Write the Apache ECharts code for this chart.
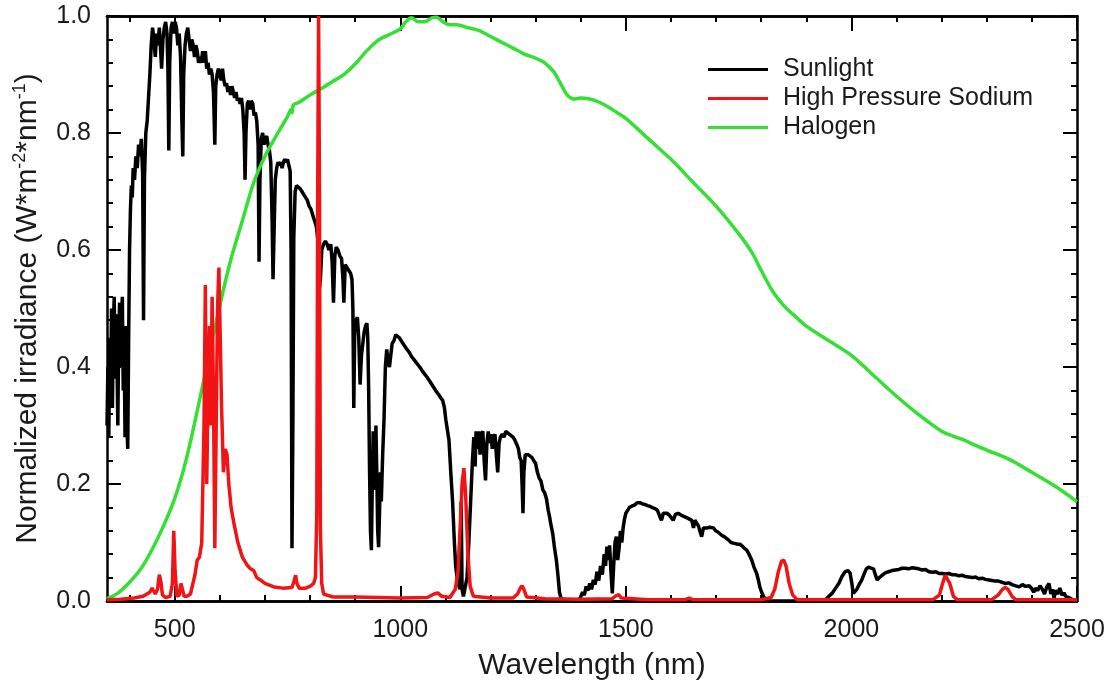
<!DOCTYPE html>
<html>
<head>
<meta charset="utf-8">
<title>Spectra</title>
<script src="https://cdn.jsdelivr.net/npm/echarts@6/dist/echarts.min.js"></script>
<style>
  html, body { margin: 0; padding: 0; background: #fff; }
  #chart { width: 1113px; height: 686px; }
</style>
</head>
<body>
<div id="chart"></div>
<script>
// tick positions
const majorTicksX = [500, 1000, 1500, 2000, 2500];
const minorTicksX = [400, 600, 700, 800, 900, 1100, 1200, 1300, 1400, 1600, 1700, 1800, 1900, 2100, 2200, 2300, 2400];

// Sunlight
const sunWl = [350,352,354,356,358,360,362,364,366,368,370,372,374,376,378,380,382,384,386,388,390,392,394,396,398,
  400,402,404,406,408,411,414,417,420,423,426,429,431,433,436,439,442,445,448,451,454,457,460,463,466,469,471,474,477,480,483,485,487,489,492,495,498,
  501,504,507,510,513,516,518,520,523,526,529,532,535,538,541,544,547,550,553,556,559,562,565,568,571,574,577,580,583,586,589,591,594,597,
  600,603,606,609,612,615,618,621,624,627,630,633,636,639,642,645,648,651,654,656,658,661,664,667,670,673,676,679,682,685,687,689,692,695,698,
  701,704,707,710,713,716,718,720,723,726,729,732,735,738,741,744,747,750,753,756,758,760,762,764,767,770,774,778,782,786,790,794,798,
  802,806,810,814,817,820,823,826,830,834,838,842,846,849,852,855,858,862,866,870,873,875,878,882,886,890,893,895,897,899,
  902,905,908,911,914,917,920,923,926,928,930,932,934,936,938,940,942,944,946,948,950,952,954,956,958,961,964,967,970,973,976,979,982,986,990,994,998,
  1002,1006,1010,1015,1020,1025,1030,1035,1040,1045,1050,1055,1060,1065,1070,1075,1080,1085,1090,1094,1098,
  1101,1104,1108,1112,1116,1120,1123,1126,1129,1132,1135,1137,1140,1144,1148,1152,1156,1160,1163,1166,1168,1171,1174,1177,1180,1183,1186,1189,1192,1195,1198,
  1201,1204,1207,1210,1213,1216,1219,1222,1226,1230,1234,1238,1242,1246,1250,1254,1258,1262,1265,1268,1270,1272,1274,1277,1280,1284,1288,1292,1296,
  1300,1304,1308,1312,1316,1320,1324,1328,1331,1334,1338,1342,1346,1350,1353,1357,1360,1395,
  1400,1404,1408,1412,1416,1420,1424,1428,1432,1436,1440,1444,1448,1452,1455,1458,1461,1464,1467,1470,1473,1476,1479,1482,1485,1488,1491,1494,1497,
  1500,1504,1508,1513,1519,1525,1531,1537,1542,1548,1553,1558,1564,1570,1575,1579,1583,1587,1591,1596,
  1601,1605,1610,1616,1622,1627,1631,1636,1641,1646,1650,1653,1657,1661,1664,1668,1672,1676,1681,1686,1690,1694,1699,
  1704,1708,1713,1718,1723,1728,1733,1738,1743,1748,1753,1758,1763,1768,1773,1779,1784,1790,1794,1797,
  1801,1805,1810,1816,1940,1950,1957,1965,1972,1979,1986,1992,1997,
  2001,2004,2008,2012,2017,2023,2028,2033,2038,2044,2049,2053,2057,2062,2068,2075,2082,2090,2097,
  2105,2112,2119,2127,2135,2142,2149,2157,2164,2172,2180,2187,2194,
  2201,2209,2216,2223,2230,2238,2245,2252,2260,2268,2275,2282,2290,2297,
  2305,2312,2319,2326,2334,2341,2349,2356,2364,2372,2379,2386,2394,
  2400,2404,2408,2413,2418,2423,2428,2433,2438,2442,2446,2449,2453,2458,2462,2467,2471,2476,2482,2490,2497];
const sunVal = [0.30,0.40,0.28,0.45,0.35,0.50,0.33,0.47,0.52,0.38,0.49,0.42,0.30,0.46,0.51,0.40,0.48,0.52,0.36,0.44,0.28,0.47,0.30,0.26,0.45,
  0.60,0.67,0.71,0.69,0.74,0.72,0.76,0.74,0.78,0.76,0.79,0.73,0.48,0.72,0.80,0.82,0.86,0.90,0.95,0.98,0.96,0.93,0.97,0.95,0.98,0.94,0.91,0.96,0.98,0.99,0.97,0.91,0.77,0.92,0.98,0.99,0.97,
  0.99,0.98,0.95,0.97,0.93,0.82,0.76,0.90,0.95,0.97,0.98,0.96,0.94,0.96,0.95,0.93,0.95,0.94,0.92,0.93,0.92,0.94,0.92,0.94,0.91,0.92,0.90,0.91,0.90,0.87,0.78,0.88,0.90,0.91,
  0.90,0.89,0.91,0.89,0.88,0.885,0.87,0.88,0.865,0.88,0.87,0.86,0.87,0.855,0.86,0.85,0.86,0.84,0.80,0.72,0.80,0.85,0.855,0.84,0.855,0.85,0.83,0.835,0.82,0.78,0.58,0.72,0.79,0.80,0.78,
  0.79,0.795,0.78,0.77,0.75,0.65,0.55,0.62,0.72,0.74,0.75,0.745,0.75,0.74,0.75,0.755,0.75,0.755,0.745,0.735,0.60,0.09,0.30,0.62,0.70,0.71,0.71,0.705,0.70,0.70,0.69,0.685,0.675,
  0.67,0.66,0.65,0.64,0.62,0.53,0.55,0.60,0.61,0.615,0.61,0.60,0.61,0.58,0.51,0.59,0.605,0.60,0.59,0.585,0.55,0.51,0.575,0.57,0.565,0.56,0.55,0.50,0.33,0.46,
  0.48,0.485,0.45,0.37,0.42,0.44,0.46,0.47,0.475,0.45,0.36,0.22,0.12,0.087,0.20,0.29,0.25,0.19,0.30,0.22,0.12,0.092,0.15,0.22,0.17,0.25,0.31,0.40,0.43,0.41,0.40,0.42,0.44,0.445,0.455,0.455,0.45,
  0.448,0.44,0.437,0.43,0.425,0.418,0.413,0.408,0.403,0.398,0.392,0.387,0.382,0.376,0.37,0.364,0.358,0.353,0.347,0.343,0.33,
  0.31,0.295,0.275,0.22,0.17,0.10,0.058,0.04,0.03,0.02,0.17,0.02,0.008,0.01,0.04,0.10,0.17,0.24,0.28,0.23,0.29,0.26,0.29,0.25,0.285,0.29,0.24,0.206,0.27,0.29,0.27,
  0.285,0.26,0.28,0.285,0.25,0.22,0.27,0.28,0.285,0.28,0.29,0.29,0.285,0.285,0.28,0.275,0.268,0.26,0.245,0.24,0.20,0.15,0.22,0.25,0.252,0.25,0.25,0.245,0.24,
  0.235,0.22,0.21,0.205,0.19,0.185,0.175,0.155,0.144,0.13,0.115,0.09,0.07,0.04,0.014,0.003,0.0,0.0,
  0.007,0.015,0.01,0.025,0.018,0.03,0.02,0.036,0.028,0.05,0.035,0.06,0.045,0.08,0.06,0.093,0.07,0.095,0.05,0.013,0.06,0.10,0.11,0.07,0.09,0.12,0.10,0.125,0.14,
  0.15,0.155,0.16,0.162,0.164,0.168,0.168,0.166,0.165,0.163,0.162,0.16,0.158,0.155,0.145,0.138,0.15,0.152,0.15,0.147,
  0.142,0.138,0.148,0.15,0.147,0.145,0.145,0.142,0.14,0.138,0.125,0.138,0.133,0.128,0.12,0.11,0.125,0.127,0.125,0.126,0.124,0.125,0.12,
  0.118,0.116,0.112,0.11,0.107,0.104,0.10,0.099,0.098,0.097,0.097,0.094,0.09,0.087,0.08,0.07,0.058,0.047,0.035,0.024,
  0.015,0.008,0.002,0.0,0.0,0.008,0.013,0.022,0.03,0.042,0.05,0.052,0.048,
  0.03,0.013,0.015,0.02,0.028,0.036,0.046,0.055,0.058,0.056,0.055,0.045,0.036,0.04,0.044,0.048,0.05,0.052,0.053,
  0.054,0.056,0.056,0.055,0.057,0.056,0.055,0.053,0.054,0.05,0.049,0.05,0.047,
  0.047,0.046,0.047,0.045,0.045,0.043,0.044,0.042,0.041,0.04,0.041,0.038,0.039,0.037,
  0.036,0.035,0.034,0.034,0.032,0.03,0.031,0.028,0.026,0.024,0.028,0.025,0.026,
  0.021,0.015,0.022,0.018,0.026,0.02,0.012,0.024,0.03,0.012,0.02,0.005,0.018,0.012,0.022,0.01,0.014,0.007,0.006,0.002,0.0];

// High pressure sodium
const hpsWl = [350,380,410,430,445,450,453,457,462,466,469,473,480,490,495,498,501,505,510,514,517,521,527,535,545,550,555,560,565,568,571,574,577,580,583,586,589,592,595,598,
  601,604,608,612,616,620,625,632,640,650,660,668,675,682,690,700,720,740,760,765,768,771,776,790,800,808,812,815,817,819,821,823,826,830,850,900,950,
  1000,1060,1075,1083,1092,1110,1122,1128,1133,1137,1141,1145,1150,1155,1162,1200,1250,1260,1266,1270,1274,1280,1320,1400,1470,1478,1484,1490,1550,1630,1640,1650,
  1800,1822,1830,1838,1845,1850,1855,1862,1870,1880,2180,2195,2202,2208,2212,2218,2226,2235,2310,2325,2335,2341,2347,2356,2365,2500];
const hpsVal = [0.002,0.003,0.005,0.008,0.015,0.022,0.025,0.012,0.02,0.045,0.035,0.01,0.006,0.008,0.03,0.12,0.05,0.008,0.01,0.03,0.03,0.008,0.008,0.012,0.045,0.07,0.075,0.10,0.30,0.54,0.20,0.35,0.47,0.30,0.52,0.35,0.09,0.30,0.50,0.57,
  0.45,0.33,0.22,0.26,0.25,0.20,0.16,0.13,0.10,0.075,0.062,0.055,0.052,0.04,0.036,0.03,0.024,0.022,0.023,0.035,0.044,0.03,0.022,0.022,0.025,0.03,0.04,0.15,0.70,1.0,0.70,0.12,0.03,0.012,0.007,0.007,0.006,
  0.005,0.006,0.012,0.014,0.008,0.006,0.02,0.05,0.13,0.20,0.227,0.18,0.08,0.025,0.008,0.005,0.005,0.012,0.022,0.026,0.02,0.007,0.004,0.003,0.004,0.009,0.011,0.005,0.002,0.002,0.005,0.002,
  0.002,0.006,0.02,0.05,0.068,0.07,0.06,0.03,0.01,0.002,0.002,0.01,0.03,0.044,0.044,0.03,0.008,0.002,0.002,0.01,0.02,0.023,0.02,0.008,0.002,0.002];

// Halogen
const halWl = [350,375,400,425,450,475,500,525,550,575,600,625,650,675,700,725,750,758,760,763,775,800,825,850,875,900,925,950,975,
  1000,1012,1025,1040,1055,1070,1080,1095,1110,1125,1150,1175,1200,1225,1250,1275,1300,1320,1340,1355,1370,1385,
  1400,1420,1440,1460,1480,1500,1550,1600,1650,1700,1750,1780,1800,1825,1850,1875,1900,1950,
  2000,2050,2100,2150,2200,2225,2250,2275,2300,2350,2400,2450,2500];
const halVal = [0.004,0.014,0.032,0.055,0.088,0.128,0.175,0.24,0.325,0.415,0.505,0.585,0.65,0.715,0.76,0.795,0.828,0.84,0.835,0.848,0.852,0.865,0.876,0.888,0.90,0.918,0.94,0.958,0.968,
  0.978,0.99,0.997,0.99,0.99,0.997,0.998,0.99,0.985,0.985,0.98,0.975,0.965,0.955,0.945,0.935,0.928,0.92,0.905,0.885,0.865,0.858,
  0.86,0.858,0.853,0.845,0.835,0.825,0.79,0.755,0.715,0.675,0.628,0.595,0.565,0.53,0.505,0.487,0.47,0.445,
  0.42,0.385,0.35,0.318,0.29,0.282,0.275,0.266,0.258,0.242,0.22,0.197,0.17];

const zip = (xs, ys) => xs.map((x, i) => [x, ys[i]]);

const FONT = '"Liberation Sans", Arial, sans-serif';
const TXT = '#1a1a1a';

function xAxisPart(pos, values, len, labels) {
  return {
    type: 'value', position: pos, min: 350, max: 2500,
    axisLine: { show: true, onZero: false, lineStyle: { color: '#000', width: 2.5 } },
    axisTick: { show: true, inside: true, length: len, customValues: values, lineStyle: { color: '#000', width: 2 } },
    axisLabel: labels
      ? { show: true, customValues: values, fontSize: 25, fontFamily: FONT, color: TXT, margin: 17, formatter: v => String(v) }
      : { show: false },
    splitLine: { show: false }
  };
}

function yAxisPart(pos, labels) {
  return {
    type: 'value', position: pos, min: 0, max: 1, interval: 0.2,
    axisLine: { show: true, onZero: false, lineStyle: { color: '#000', width: 2.5 } },
    axisTick: { show: true, inside: true, length: 14, lineStyle: { color: '#000', width: 2 } },
    minorTick: { show: true, splitNumber: 5, length: 6, lineStyle: { color: '#000', width: 2 } },
    axisLabel: labels ? { show: true, fontSize: 25, fontFamily: FONT, color: TXT, margin: 16, formatter: v => v.toFixed(1) } : { show: false },
    splitLine: { show: false }
  };
}

const xBottom = xAxisPart('bottom', majorTicksX, 15, true);
xBottom.name = 'Wavelength (nm)';
xBottom.nameLocation = 'middle';
xBottom.nameGap = 50;
xBottom.nameTextStyle = { fontSize: 30, fontFamily: FONT, color: TXT };

const yLeft = yAxisPart('left', true);
yLeft.name = '{n|Normalized irradiance (W*m}{s|-2}{n|*nm}{s|-1}{n|)}';
yLeft.nameLocation = 'middle';
yLeft.nameGap = 62;
yLeft.nameTextStyle = {
  rich: {
    n: { fontSize: 30, lineHeight: 34, fontFamily: FONT, color: TXT },
    s: { fontSize: 18, lineHeight: 18, verticalAlign: 'top', fontFamily: FONT, color: TXT }
  }
};

const chart = echarts.init(document.getElementById('chart'));
chart.setOption({
  animation: false,
  backgroundColor: '#fff',
  grid: { left: 107, right: 36, top: 16, bottom: 85 },
  legend: {
    orient: 'vertical', left: 708, top: 57, padding: 0,
    icon: 'rect', itemWidth: 60, itemHeight: 3, itemGap: 4,
    textStyle: { fontSize: 25, fontFamily: FONT, color: TXT, padding: [0, 0, 0, 10] },
    data: ['Sunlight', 'High Pressure Sodium', 'Halogen']
  },
  xAxis: [
    xBottom,
    xAxisPart('bottom', minorTicksX, 6, false),
    xAxisPart('top', majorTicksX, 15, false),
    xAxisPart('top', minorTicksX, 6, false)
  ],
  yAxis: [yLeft, yAxisPart('right', false)],
  series: [
    { name: 'Sunlight', type: 'line', data: zip(sunWl, sunVal), showSymbol: false, symbol: 'none',
      lineStyle: { color: '#000', width: 3.5 }, itemStyle: { color: '#000' }, z: 2 },
    { name: 'High Pressure Sodium', type: 'line', data: zip(hpsWl, hpsVal), showSymbol: false, symbol: 'none',
      lineStyle: { color: '#f01414', width: 3.5 }, itemStyle: { color: '#f01414' }, z: 4 },
    { name: 'Halogen', type: 'line', data: zip(halWl, halVal), showSymbol: false, symbol: 'none', smooth: 0.3,
      lineStyle: { color: '#33e033', width: 3.5 }, itemStyle: { color: '#33e033' }, z: 3 }
  ]
});
</script>
</body>
</html>
